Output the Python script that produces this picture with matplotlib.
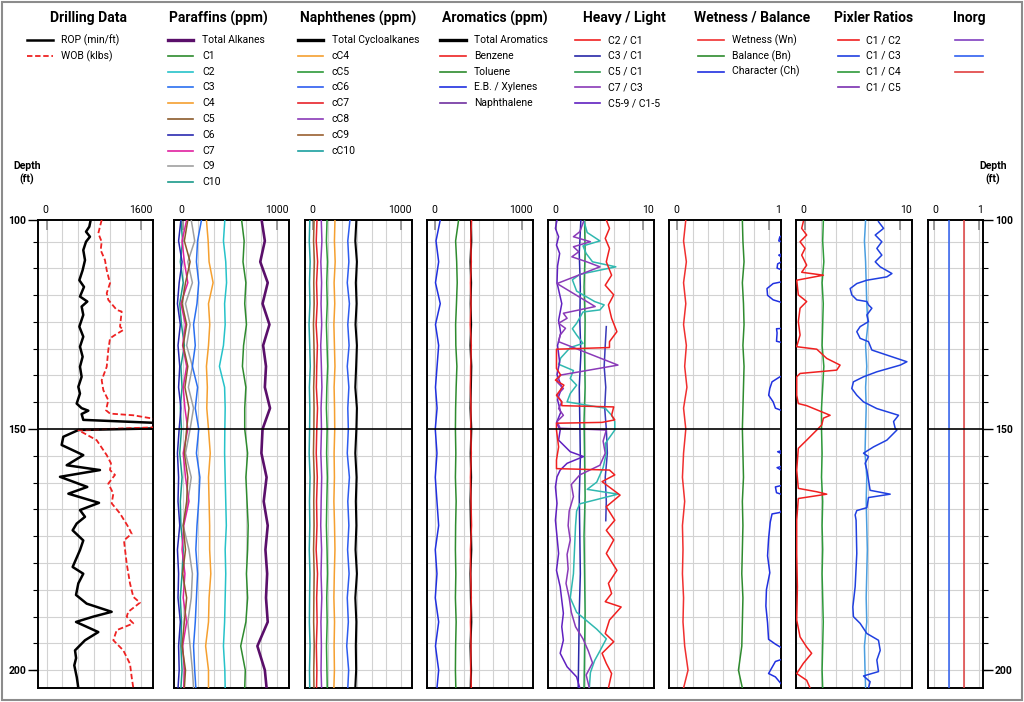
import numpy as np
import matplotlib.pyplot as plt
from matplotlib.lines import Line2D
from matplotlib.patches import Rectangle

plt.rcParams['font.family'] = ['Roboto', 'DejaVu Sans']

# ---------------- data (depth in ft) ----------------
dep = [100, 105, 110, 115, 120, 125, 130, 135, 140, 145, 150,
       155, 160, 165, 170, 175, 180, 185, 190, 195, 200, 203.7]

# drilling data
rop_depth = [100.0, 101.6, 102.8, 104.0, 105.2, 107.2, 109.6, 112.0, 114.4, 116.0,
             118.3, 119.5, 120.7, 122.7, 125.5, 127.9, 130.3, 132.7, 135.1, 137.5,
             139.9, 141.5, 143.9, 145.0, 145.6, 146.4, 147.8, 148.6, 149.8, 150.2,
             151.6, 153.3, 155.4, 157.5, 158.5, 159.9, 162.0, 163.4, 165.3, 166.8,
             168.2, 169.6, 171.0, 173.1, 175.1, 178.6, 180.0, 182.0, 184.4, 186.2,
             187.9, 188.9, 190.0, 192.1, 193.8, 195.9, 197.5, 199.0, 201.5, 203.7]
rop = [733, 714, 668, 723, 668, 630, 654, 621, 575, 640,
       584, 686, 607, 630, 575, 630, 584, 621, 584, 607,
       561, 584, 538, 607, 700, 607, 630, 1750, 1750, 561,
       352, 329, 630, 399, 862, 306, 686, 422, 849, 584,
       654, 538, 482, 630, 584, 482, 630, 561, 529, 677,
       1025, 769, 529, 839, 654, 515, 530, 505, 540, 561]
wob_depth = [100.0, 101.6, 103.2, 105.2, 107.2, 109.6, 112.0, 115.1, 117.5, 119.1,
             121.5, 121.9, 125.5, 126.3, 127.5, 128.3, 131.1, 135.1, 138.3, 140.7,
             143.1, 145.5, 146.3, 146.7, 147.5, 148.3, 149.5, 150.2, 152.3, 155.4,
             157.1, 158.5, 159.5, 161.3, 163.4, 165.4, 167.5, 170.3, 171.7, 173.1,
             177.9, 182.0, 184.8, 186.0, 187.9, 188.9, 190.3, 191.7, 193.8, 195.9,
             198.7, 201.4, 203.7]
wob = [886, 862, 839, 886, 872, 932, 956, 1002, 956, 978,
       1095, 1164, 1141, 1187, 1071, 1002, 978, 956, 886, 909,
       978, 946, 1002, 1326, 1600, 1750, 1750, 560, 816, 956,
       1015, 1002, 1071, 978, 1048, 1025, 1141, 1256, 1303, 1196,
       1234, 1280, 1326, 1419, 1256, 1234, 1326, 1095, 1048, 1187,
       1280, 1303, 1326]

# paraffins (ppm)
total_alkanes = [762, 790, 750, 815, 770, 830, 775, 800, 790, 835, 770, 760, 805, 780, 815, 795, 810, 800, 815, 725, 790, 805]
c1 = [588, 610, 600, 625, 615, 630, 605, 595, 625, 615, 615, 640, 625, 635, 645, 640, 630, 640, 625, 580, 620, 615]
c2 = [442, 430, 450, 457, 440, 445, 430, 395, 440, 445, 442, 440, 445, 450, 455, 445, 450, 445, 440, 430, 442, 445]
c3 = [239, 205, 195, 215, 200, 170, 185, 160, 205, 185, 215, 195, 225, 215, 200, 190, 205, 195, 185, 170, 180, 190]
c4 = [282, 297, 305, 340, 300, 311, 300, 282, 290, 285, 300, 315, 300, 305, 310, 310, 320, 305, 300, 275, 300, 300]
c5 = [120, 90, 140, 100, 70, 110, 80, 120, 95, 130, 110, 90, 120, 110, 80, 100, 75, 110, 90, 70, 100, 90]
c6 = [60, 40, 70, 45, 30, 55, 35, 50, 40, 60, 45, 30, 40, 35, 50, 30, 40, 35, 55, 40, 45, 35]
c7 = [110, 70, 90, 120, 60, 100, 75, 110, 80, 95, 120, 80, 100, 130, 85, 70, 95, 80, 110, 75, 90, 85]
c9 = [150, 180, 120, 160, 100, 140, 110, 160, 125, 170, 140, 100, 150, 120, 80, 130, 160, 150, 120, 140, 160, 170]
c10 = [60, 75, 55, 80, 50, 65, 90, 60, 70, 55, 65, 50, 70, 55, 60, 80, 70, 55, 65, 60, 70, 60]

# naphthenes (ppm)
total_cyclo = [480, 470, 485, 475, 482, 472, 485, 478, 470, 485, 480, 470, 482, 475, 480, 472, 485, 470, 480, 475, 478, 470]
cc4 = [280, 275, 282, 272, 278, 270, 275, 280, 272, 276, 278, 272, 275, 270, 276, 280, 274, 270, 276, 272, 275, 270]
cc5 = [206, 200, 210, 203, 208, 200, 206, 212, 204, 200, 207, 202, 209, 204, 200, 206, 210, 203, 207, 201, 205, 208]
cc6 = [420, 400, 410, 395, 415, 400, 412, 395, 410, 400, 405, 395, 415, 400, 410, 398, 412, 395, 405, 390, 408, 400]
cc7 = [112, 105, 118, 108, 114, 104, 116, 110, 106, 117, 110, 105, 115, 108, 112, 104, 117, 109, 113, 106, 111, 108]
cc8 = [152, 158, 148, 155, 150, 156, 147, 153, 158, 150, 154, 148, 156, 151, 147, 155, 150, 157, 149, 153, 150, 155]
cc9 = [85, 80, 88, 82, 86, 79, 84, 88, 81, 85, 83, 79, 87, 82, 85, 80, 86, 83, 81, 87, 82, 84]
cc10 = [45, 40, 48, 42, 46, 38, 44, 49, 41, 45, 43, 39, 47, 42, 45, 40, 46, 43, 41, 47, 42, 44]

# aromatics (ppm)
total_arom = [415, 418, 410, 416, 412, 416, 410, 418, 414, 410, 418, 412, 416, 410, 414, 418, 410, 414, 418, 410, 416, 412]
benzene = [420, 412, 418, 410, 415, 408, 418, 412, 410, 415, 412, 418, 410, 415, 420, 410, 412, 418, 410, 415, 412, 418]
toluene = [298, 270, 280, 285, 278, 270, 272, 282, 275, 270, 268, 272, 268, 275, 270, 268, 272, 268, 275, 270, 268, 272]
xylenes = [125, 85, 110, 80, 125, 80, 110, 95, 80, 95, 78, 94, 78, 94, 110, 78, 94, 78, 110, 80, 110, 94]
naph_depth = [100, 203.7]
naphthalene = [0, 0]

# heavy / light
c2c1_depth = [100.0, 102.0, 104.4, 106.8, 110.0, 113.2, 115.6, 117.9, 120.3, 123.5,
              126.7, 129.1, 130.5, 130.9, 135.5, 137.1, 138.3, 139.5, 141.9, 143.5,
              144.4, 144.7, 146.7, 147.8, 148.4, 148.6, 150.2, 153.7, 156.4, 158.2,
              158.5, 159.5, 160.9, 163.7, 166.1, 168.9, 171.0, 173.0, 175.8, 179.3,
              182.0, 184.1, 185.8, 186.9, 189.6, 192.4, 194.1, 196.5, 198.6, 200.7, 203.7]
c2c1 = [5.5, 5.8, 5.4, 5.8, 5.5, 6.0, 5.4, 6.2, 5.7, 6.0,
        6.5, 5.8, 5.8, 0.8, 0.8, 1.2, 0.7, 1.5, 0.8, 1.3,
        1.3, 6.2, 6.0, 6.3, 5.1, 0.8, 0.8, 1.0, 0.8, 0.8,
        5.8, 6.3, 5.1, 6.8, 5.5, 6.3, 5.5, 6.2, 5.5, 6.5,
        5.7, 6.0, 5.4, 6.9, 5.8, 5.4, 6.2, 5.1, 5.5, 6.0, 5.7]
c3c1_depth = [100, 108, 116, 124, 132, 140, 148, 156, 164, 172, 180, 188, 196, 203.7]
c3c1 = [3.1, 2.95, 3.05, 3.0, 3.1, 2.95, 3.0, 3.05, 2.95, 3.0, 3.05, 2.95, 2.9, 2.85]
c5c1 = [3.45, 3.5, 3.4, 3.5, 3.45, 3.5, 3.4, 3.45, 3.5, 3.4, 3.45, 3.5, 3.45, 3.4]
c7c3_depth = [100.4, 102.8, 104.0, 105.2, 106.4, 107.6, 108.8, 110.0, 111.2, 115.2,
              120.7, 122.3, 123.5, 124.7, 125.9, 127.5, 129.1, 134.7, 137.1, 138.7,
              140.3, 141.9, 143.5, 145.1, 146.7, 148.2, 149.8, 150.2, 152.5, 155.0,
              157.5, 159.5, 161.5, 164.0, 167.0, 170.0, 173.0, 176.0, 179.0, 182.0,
              185.0, 188.0, 191.0, 193.5, 196.0, 198.5, 201.0, 203.7]
c7c3 = [3.35, 3.0, 2.4, 4.0, 2.4, 2.9, 2.25, 3.65, 4.9, 0.85,
        4.45, 1.45, 1.8, 1.0, 1.65, 1.15, 1.0, 6.6, 1.15, 0.85,
        1.45, 0.85, 1.3, 1.0, 1.45, 0.85, 1.15, 5.5, 5.2, 5.4,
        4.9, 3.0, 2.2, 2.4, 2.0, 1.9, 2.1, 1.8, 1.9, 1.7,
        2.0, 2.2, 2.6, 3.3, 3.8, 4.2, 3.6, 3.9]
c59_depth = [100.0, 102.0, 104.0, 106.0, 108.0, 111.0, 115.0, 120.0, 124.0, 127.0,
             130.0, 134.0, 137.0, 140.0, 143.0, 146.0, 148.5, 150.2, 152.3, 154.7,
             155.7, 157.1, 158.5, 159.9, 162.0, 165.4, 168.9, 172.3, 175.8, 179.3,
             182.7, 185.5, 188.2, 191.0, 193.8, 196.5, 199.3, 201.4, 203.7]
c59 = [0.85, 0.7, 1.0, 0.8, 1.1, 0.9, 0.85, 1.3, 1.0, 1.2,
       0.9, 1.1, 0.85, 1.3, 0.9, 1.2, 0.8, 1.15, 1.0, 2.1,
       3.35, 1.8, 1.15, 0.85, 0.7, 0.85, 0.7, 0.85, 1.0, 0.8,
       1.15, 1.3, 1.45, 1.3, 1.45, 1.15, 1.8, 2.7, 3.0]
teal_depth = [100.4, 103.0, 105.0, 106.2, 108.0, 110.0, 111.2, 113.0, 114.3, 117.0,
              119.5, 120.3, 121.5, 122.0, 124.7, 126.0, 127.5, 129.5, 130.5, 133.0,
              134.5, 136.0, 137.9, 139.5, 141.5, 143.5, 145.0, 146.7, 148.2, 149.9,
              150.2, 153.0, 155.0, 158.0, 161.0, 162.5, 163.5, 165.5, 167.0, 170.0,
              175.0, 180.0, 185.0, 188.0, 191.5, 193.5, 196.0, 198.0, 200.5, 203.7]
teal = [3.4, 3.7, 4.9, 3.3, 3.6, 4.2, 6.4, 3.0, 2.3, 2.7,
        4.4, 5.3, 4.9, 3.3, 2.7, 2.3, 2.7, 3.3, 2.1, 1.2,
        1.0, 2.4, 2.1, 2.7, 2.1, 1.8, 5.4, 6.0, 6.3, 6.3,
        6.3, 5.4, 5.5, 5.2, 4.6, 3.7, 6.6, 3.0, 2.7, 2.6,
        2.5, 2.4, 2.1, 2.7, 4.6, 5.5, 4.9, 4.4, 4.0, 3.9]
navy_depth = [125.5, 130, 135, 140, 145, 150, 155, 160, 165, 169]
navy = [5.5, 5.4, 5.3, 5.45, 5.35, 5.5, 5.6, 5.4, 5.5, 5.45]

# wetness / balance / character
wetness = [0.15, 0.13, 0.155, 0.13, 0.15, 0.13, 0.155, 0.14, 0.16, 0.13, 0.15,
           0.13, 0.12, 0.14, 0.12, 0.125, 0.12, 0.13, 0.125, 0.14, 0.17, 0.13]
balance = [0.655, 0.66, 0.67, 0.655, 0.665, 0.67, 0.66, 0.67, 0.665, 0.66, 0.655,
           0.66, 0.665, 0.655, 0.66, 0.655, 0.65, 0.66, 0.655, 0.65, 0.62, 0.655]
char_depth = [100.0, 103.5, 104.0, 105.0, 105.5, 107.8, 108.4, 109.5, 110.5, 111.5,
              112.3, 114.6, 115.2, 116.4, 118.0, 119.1, 120.0, 125.9, 126.0, 127.0,
              129.0, 129.5, 137.3, 137.5, 138.7, 140.3, 141.9, 143.5, 145.0, 145.9,
              154.3, 154.7, 155.5, 157.5, 158.0, 159.0, 161.5, 162.0, 163.2, 163.8,
              166.0, 167.3, 167.6, 169.3, 172.8, 176.3, 179.8, 183.3, 186.7, 190.2,
              193.6, 194.6, 195.3, 195.6, 197.5, 198.2, 200.7, 201.4, 202.8, 203.7]
character = [1.04, 1.04, 0.99, 0.98, 1.04, 1.04, 0.98, 1.04, 0.97, 0.965,
             1.04, 1.04, 0.93, 0.875, 0.88, 0.93, 1.04, 1.04, 0.96, 0.965,
             0.96, 1.04, 1.04, 0.99, 0.92, 0.90, 0.89, 0.93, 0.95, 1.04,
             1.04, 0.97, 1.04, 1.04, 0.965, 1.04, 1.04, 0.95, 0.96, 1.04,
             1.04, 0.99, 0.92, 0.904, 0.889, 0.88, 0.90, 0.87, 0.865, 0.88,
             0.889, 0.95, 1.0, 1.04, 1.04, 0.95, 0.889, 0.95, 1.0, 1.04]

# pixler ratios
c1c2_depth = [100.4, 102.0, 103.6, 105.2, 106.8, 108.4, 110.8, 112.5, 113.2, 114.4,
              117.9, 119.5, 121.1, 124.3, 127.5, 130.3, 130.9, 133.1, 134.7, 135.9,
              136.7, 137.5, 141.9, 143.9, 144.4, 146.7, 147.4, 149.0, 150.2, 152.3,
              154.0, 158.5, 162.3, 163.0, 163.5, 164.4, 168.9, 175.8, 182.7, 189.6,
              193.1, 195.2, 196.5, 198.6, 200.7, 202.1, 203.7]
c1c2 = [0.63, 0.49, 0.92, 0.35, 0.78, 0.49, 0.92, 0.49, 2.36, 0.06,
        0.20, 0.92, 0.35, 0.20, 0.35, 0.06, 1.79, 2.65, 3.80, 3.51,
        0.35, 0.06, 0.06, 0.20, 0.92, 2.94, 2.36, 2.22, 1.79, 0.92,
        0.20, 0.06, 0.20, 1.79, 2.65, 0.20, 0.06, 0.06, 0.12, 0.06,
        0.35, 0.92, 1.35, 0.63, 0.06, 0.92, 1.21]
c1c3_depth = [100.4, 102.0, 103.6, 105.2, 106.8, 108.4, 110.0, 111.2, 112.8, 113.6,
              114.4, 115.2, 116.4, 117.9, 119.1, 119.5, 120.3, 121.1, 122.7, 124.3,
              125.5, 126.7, 128.3, 129.1, 131.1, 132.3, 133.9, 134.7, 136.3, 137.5,
              138.7, 140.3, 141.9, 143.5, 145.1, 146.7, 148.2, 149.8, 150.2, 152.3,
              153.7, 155.0, 155.7, 157.1, 158.5, 160.6, 162.7, 163.5, 164.2, 166.3,
              166.9, 167.8, 168.9, 175.8, 182.7, 186.9, 188.9, 190.3, 192.4, 193.8,
              195.9, 197.9, 200.3, 201.2, 202.4, 203.7]
c1c3 = [7.11, 7.55, 6.83, 7.40, 6.97, 7.40, 6.83, 7.26, 8.27, 7.83,
        6.11, 5.24, 4.67, 4.81, 5.24, 6.11, 6.25, 6.54, 6.11, 6.25,
        5.53, 5.24, 5.53, 6.25, 6.54, 7.83, 9.56, 8.99, 6.97, 5.82,
        4.95, 4.81, 5.24, 5.82, 6.97, 8.84, 8.41, 8.55, 8.70, 7.83,
        6.68, 5.82, 6.25, 5.96, 6.11, 6.25, 6.39, 8.12, 6.25, 6.11,
        5.24, 5.10, 5.18, 5.24, 5.10, 4.90, 4.95, 5.53, 6.11, 7.11,
        7.26, 6.97, 7.11, 5.82, 6.39, 6.25]
c1c4 = [2.36, 2.3, 2.4, 2.25, 2.35, 2.3, 2.25, 2.4, 2.3, 2.2, 2.2,
        2.25, 2.2, 2.3, 2.25, 2.3, 2.25, 2.3, 2.35, 2.3, 2.25, 2.3]
c1c5 = [6.0, 5.9, 6.0, 6.05, 6.1, 6.2, 6.0, 6.1, 6.0, 6.05, 6.0,
        5.95, 6.1, 6.05, 6.1, 6.15, 6.1, 6.05, 6.1, 5.9, 5.95, 6.0]

# inorganics
inorg_depth = [100, 203.7]
inorg_1 = [0.0, 0.0]
inorg_2 = [0.384, 0.384]
inorg_3 = [0.653, 0.653]

# ---------------- layout ----------------
W, H = 1024, 702
TOP, BOT = 220, 688
DEPTH_MAX = 203.7
RED = '#ee2222'


def depth_fwd(d):
    d = np.asarray(d, dtype=float)
    return np.where(d <= 150, (d - 100) * 209 / 50, 209 + (d - 150) * 241 / 50)


def depth_inv(p):
    p = np.asarray(p, dtype=float)
    return np.where(p <= 209, 100 + p * 50 / 209, 150 + (p - 209) * 50 / 241)


fig = plt.figure(figsize=(W / 100, H / 100), dpi=100)


def fx(px):
    return px / W


def fy(py):
    return 1 - py / H


grid_y = depth_inv(209 + 26.78 * np.array([k for k in range(-7, 10) if k != 0]))
std_grid = [0.075 + 0.137 * k for k in range(7)]


def make_track(x0, x1, xmax, left_lab, right_lab, gfr=std_grid):
    ax = fig.add_axes([fx(x0), fy(BOT), (x1 - x0) / W, (BOT - TOP) / H])
    ax.set_yscale('function', functions=(depth_fwd, depth_inv))
    ax.set_ylim(DEPTH_MAX, 100)
    ax.set_xlim(0, xmax)
    for y in grid_y:
        ax.axhline(y, color='#d2d2d2', lw=0.8, zorder=0)
    for f in gfr:
        ax.axvline(f * xmax, color='#d2d2d2', lw=0.8, zorder=0)
    ax.axhline(150, color='black', lw=1.2, zorder=6)
    # short dark scale marks along the top edge
    ax.xaxis.set_ticks_position('top')
    ax.set_xticks([gfr[0] * xmax, gfr[-1] * xmax])
    ax.tick_params(axis='x', direction='in', length=7, width=1.2,
                   color='#8a8a8a', labeltop=False, labelbottom=False)
    ax.set_yticks([])
    ax.set_yticks([], minor=True)
    for s in ax.spines.values():
        s.set_linewidth(1.4)
    dy = 1 + 5 / (BOT - TOP)
    ax.text(4 / (x1 - x0), dy, left_lab, transform=ax.transAxes,
            ha='left', va='bottom', fontsize=7.5)
    ax.text(1, dy, right_lab, transform=ax.transAxes,
            ha='right', va='bottom', fontsize=7.5)
    return ax


def depth_ticks(ax, right=False):
    ax.set_yticks([100, 150, 200])
    ax.set_yticklabels(['100', '150', '200'], fontsize=7.5, fontweight='bold')
    ax.set_yticks(grid_y, minor=True)
    ax.tick_params(axis='y', which='major', length=7, width=1, pad=1.5)
    ax.tick_params(axis='y', which='minor', length=3.5, width=0.8)
    if right:
        ax.yaxis.tick_right()


def curve(ax, vals, depth, color, lw=1.1, z=3, **kw):
    ax.plot(vals, depth, color=color, lw=lw, zorder=z, **kw)


# track 1: drilling data
ax1 = make_track(38, 153, 1600, '0', '1600')
depth_ticks(ax1)
curve(ax1, rop, rop_depth, 'black', 1.8)
curve(ax1, wob, wob_depth, RED, 1.3, ls=(0, (3, 1.5)))

# track 2: paraffins
par_cols = ['#5a0f6a', '#2e8b2e', '#26c2c9', '#2a6ff0', '#f5a030',
            '#8b5a2b', '#2a2ab0', '#e020a0', '#a0a0a0', '#1a9a8a']
ax2 = make_track(174, 289, 1000, '0', '1000')
for vals, col in zip([c10, c9, c7, c6, c5, c4, c3, c2, c1], par_cols[:0:-1]):
    curve(ax2, vals, dep, col)
curve(ax2, total_alkanes, dep, par_cols[0], 1.9)

# track 3: naphthenes
nap_cols = ['black', '#f5a030', '#2e9a3a', '#2d5cf0', '#e8232a', '#8a3ab8', '#9a6030', '#1aa0a0']
ax3 = make_track(305, 412, 1000, '0', '1000')
for vals, col in zip([cc4, cc5, cc6, cc7, cc8, cc9, cc10], nap_cols[1:]):
    curve(ax3, vals, dep, col)
curve(ax3, total_cyclo, dep, 'black', 1.5)

# track 4: aromatics
aro_cols = ['black', RED, '#2e8b2e', '#2030e0', '#7030a0']
ax4 = make_track(427, 533, 1000, '0', '1000')
curve(ax4, naphthalene, naph_depth, aro_cols[4], z=1)
curve(ax4, xylenes, dep, aro_cols[3])
curve(ax4, toluene, dep, aro_cols[2])
curve(ax4, total_arom, dep, 'black', 1.5)
curve(ax4, benzene, dep, aro_cols[1])

# track 5: heavy / light
hl_cols = ['#f02020', '#2828a8', '#2a9a4a', '#8a3ab8', '#6020c0']
ax5 = make_track(548, 654, 10, '0', '10')
curve(ax5, c3c1, c3c1_depth, hl_cols[1])
curve(ax5, c5c1, c3c1_depth, hl_cols[2])
curve(ax5, navy, navy_depth, '#3a3ab8')
curve(ax5, teal, teal_depth, '#30b8b0')
curve(ax5, c59, c59_depth, hl_cols[4])
curve(ax5, c7c3, c7c3_depth, hl_cols[3])
curve(ax5, c2c1, c2c1_depth, hl_cols[0])

# track 6: wetness / balance
wb_cols = ['#f03030', '#2e8b2e', '#2030e0']
ax6 = make_track(669, 781, 1, '0', '1')
curve(ax6, wetness, dep, wb_cols[0])
curve(ax6, balance, dep, wb_cols[1])
curve(ax6, character, char_depth, wb_cols[2])

# track 7: pixler ratios
px_cols = ['#f02020', '#2040e0', '#2e9a3a', '#7a30b0']
ax7 = make_track(796, 912, 10, '0', '10')
curve(ax7, c1c4, dep, px_cols[2])
curve(ax7, c1c5, dep, '#4a9ee0')
curve(ax7, c1c3, c1c3_depth, px_cols[1])
curve(ax7, c1c2, c1c2_depth, px_cols[0])

# track 8: inorganics
in_cols = ['#8040c0', '#3060f0', '#e04040']
ax8 = make_track(928, 983, 1, '0', '1', gfr=[0.11, 0.38, 0.65, 0.92])
depth_ticks(ax8, right=True)
curve(ax8, inorg_1, inorg_depth, in_cols[0], z=1)
curve(ax8, inorg_2, inorg_depth, in_cols[1])
curve(ax8, inorg_3, inorg_depth, in_cols[2])

# ---------------- headers / legends ----------------
headers = [
    ('Drilling Data', 88, (27, 53, 61),
     [('ROP (min/ft)', 'black', 1.8, '-'), ('WOB (klbs)', RED, 1.3, (0, (3, 1.5)))]),
    ('Paraffins (ppm)', 218, (168, 193, 202),
     [(n, c, 2.4 if i == 0 else 1.2, '-') for i, (n, c) in enumerate(zip(
         ['Total Alkanes', 'C1', 'C2', 'C3', 'C4', 'C5', 'C6', 'C7', 'C9', 'C10'], par_cols))]),
    ('Naphthenes (ppm)', 358, (298, 323, 332),
     [(n, c, 2.4 if i == 0 else 1.2, '-') for i, (n, c) in enumerate(zip(
         ['Total Cycloalkanes', 'cC4', 'cC5', 'cC6', 'cC7', 'cC8', 'cC9', 'cC10'], nap_cols))]),
    ('Aromatics (ppm)', 495, (440, 466, 474),
     [(n, c, 2.4 if i == 0 else 1.2, '-') for i, (n, c) in enumerate(zip(
         ['Total Aromatics', 'Benzene', 'Toluene', 'E.B. / Xylenes', 'Naphthalene'], aro_cols))]),
    ('Heavy / Light', 624, (575, 600, 608),
     [(n, c, 1.2, '-') for n, c in zip(
         ['C2 / C1', 'C3 / C1', 'C5 / C1', 'C7 / C3', 'C5-9 / C1-5'], hl_cols)]),
    ('Wetness / Balance', 752, (698, 724, 732),
     [(n, c, 1.2, '-') for n, c in zip(
         ['Wetness (Wn)', 'Balance (Bn)', 'Character (Ch)'], wb_cols)]),
    ('Pixler Ratios', 874, (838, 859, 866),
     [(n, c, 1.2, '-') for n, c in zip(['C1 / C2', 'C1 / C3', 'C1 / C4', 'C1 / C5'], px_cols)]),
    ('Inorg', 969, (955, 983, None),
     [('', c, 1.2, '-') for c in in_cols]),
]

for title, cx, (lx0, lx1, tx), entries in headers:
    fig.text(fx(cx), fy(18), title, ha='center', va='center',
             fontsize=10, fontweight='bold')
    for i, (name, col, lw, ls) in enumerate(entries):
        y = fy(40 + 15.8 * i)
        fig.add_artist(Line2D([fx(lx0), fx(lx1)], [y, y], color=col, lw=lw, ls=ls))
        if tx is not None:
            fig.text(fx(tx), y, name, ha='left', va='center', fontsize=7.5)

for cx in (27, 993):
    fig.text(fx(cx), fy(173), 'Depth\n(ft)', ha='center', va='center',
             fontsize=7.5, fontweight='bold', linespacing=1.4)

fig.add_artist(Rectangle((0.002, 0.003), 0.996, 0.994, transform=fig.transFigure,
                         fill=False, edgecolor='#8c8c8c', lw=1.5))

fig.savefig('out.png', dpi=100)
